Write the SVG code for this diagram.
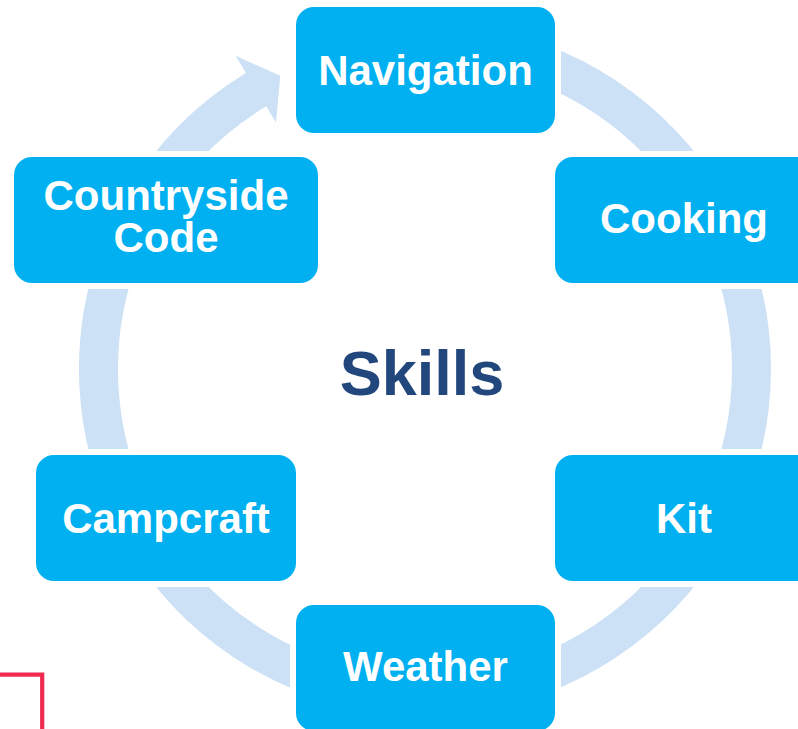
<svg xmlns="http://www.w3.org/2000/svg" width="798" height="729" viewBox="0 0 798 729">
<style>
.node rect{fill:#00B0F0;stroke:#FFFFFF;stroke-width:6}
.node text{fill:#FFFFFF;font-family:"Liberation Sans",Arial,sans-serif;font-weight:bold;font-size:42px;text-anchor:middle}
.ring{fill:none;stroke:#CCE1F6;stroke-width:39}
.arrow{fill:#CCE1F6}
</style>
<rect width="798" height="729" fill="#FFFFFF"/>
<g id="connectors">
<path class="ring" d="M 368.3 47.5 A 326.5 326.5 0 1 1 118.2 257.3"/>
<path class="arrow" d="M 125.4 196 A 346 346 0 0 1 246 72.9 L 235.6 55.8 L 280.3 75.7 L 276 122.6 L 266.2 106.3 A 307 307 0 0 0 159.1 215.5 Z"/>
</g>
<text id="center" x="422" y="395" fill="#22477C" font-family="Liberation Sans,Arial,sans-serif" font-weight="bold" font-size="63" text-anchor="middle">Skills</text>
<g id="navigation" class="node"><rect x="293" y="4" width="265" height="132" rx="21"/><text x="425.5" y="85">Navigation</text></g>
<g id="cooking" class="node"><rect x="552" y="154" width="265" height="132" rx="21"/><text x="684" y="233">Cooking</text></g>
<g id="kit" class="node"><rect x="552" y="452" width="265" height="132" rx="21"/><text x="684" y="533">Kit</text></g>
<g id="weather" class="node"><rect x="293" y="602" width="265" height="132" rx="21"/><text x="425.5" y="681">Weather</text></g>
<g id="campcraft" class="node"><rect x="33" y="452" width="266" height="132" rx="21"/><text x="166" y="533">Campcraft</text></g>
<g id="countryside" class="node"><rect x="11" y="154" width="310" height="132" rx="21"/><text x="166" y="210">Countryside<tspan x="166" dy="42">Code</tspan></text></g>
<path d="M 0 674.7 H 42.2 V 729" fill="none" stroke="#F02B50" stroke-width="4.2"/>
</svg>
